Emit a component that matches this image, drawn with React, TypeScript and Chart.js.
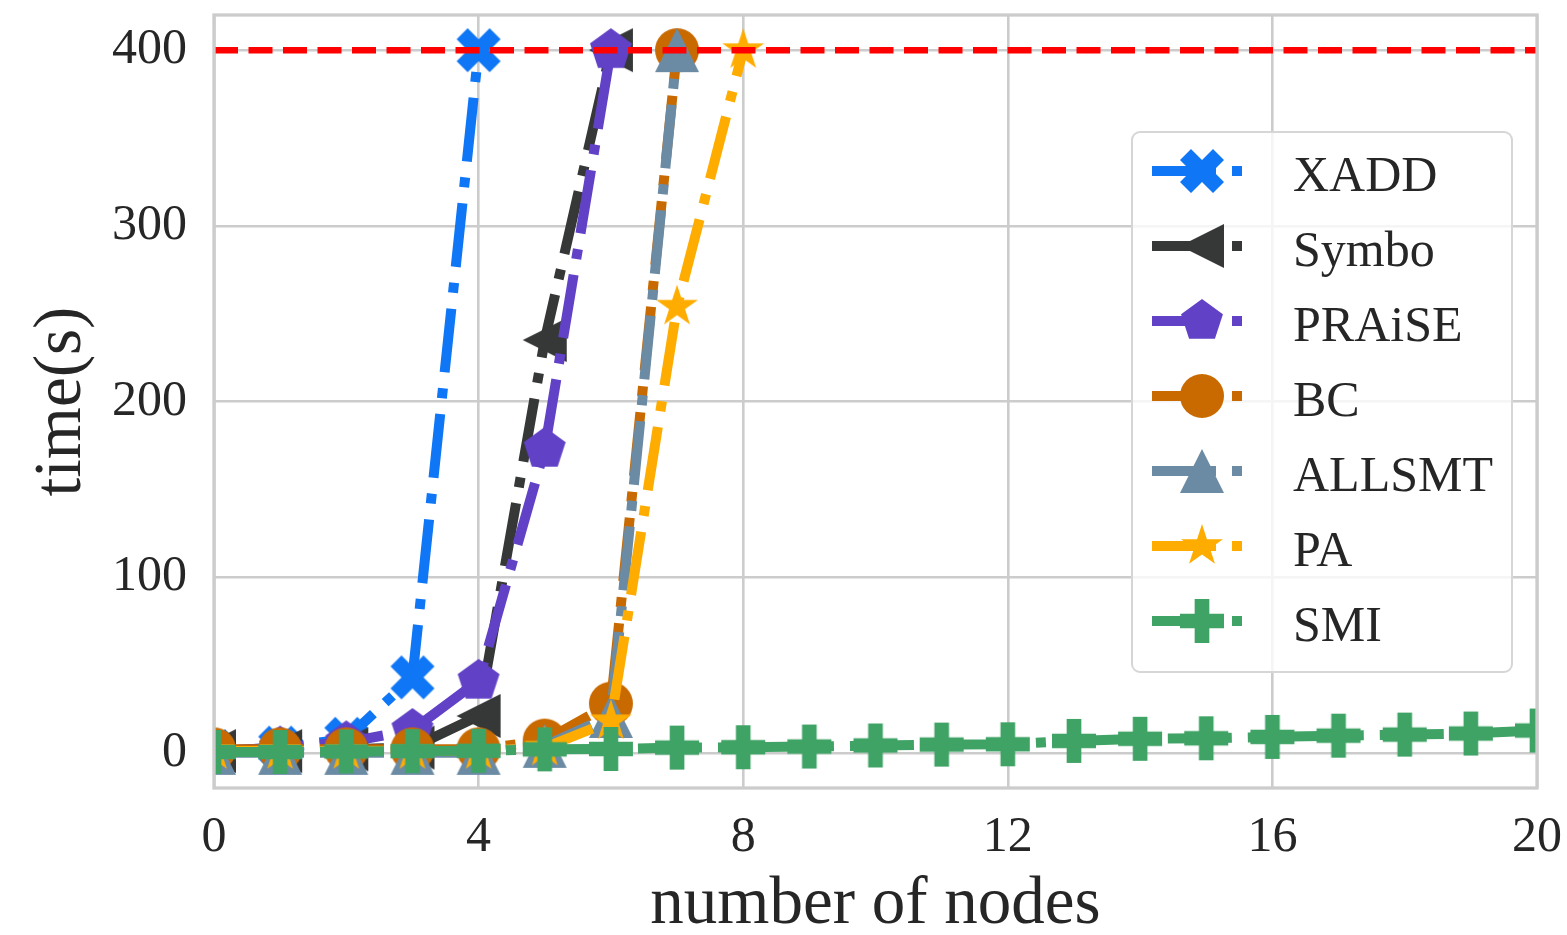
import React, { useEffect, useRef } from 'react';
import { Chart, registerables } from 'chart.js';

Chart.register(...registerables);

// ---------------- data ----------------
const NODES = [0, 1, 2, 3, 4, 5, 6, 7, 8, 9, 10, 11, 12, 13, 14, 15, 16, 17, 18, 19, 20];
const SERIES_NAMES = ['XADD', 'Symbo', 'PRAiSE', 'BC', 'ALLSMT', 'PA', 'SMI'];
const XADD = [1, 3, 8, 43, 400];
const SYMBO = [1, 1, 2, 3, 21, 235, 400];
const PRAISE = [1, 3, 6, 13, 41, 173, 400];
const BC = [2, 2, 2, 2, 2, 7, 28, 400];
const ALLSMT = [0, 0, 0, 0, 0, 4, 21, 400];
const PA = [1, 1, 1, 1, 1, 3, 18, 254, 400];
const SMI = [0.5, 0.5, 0.8, 1, 1.2, 2, 2.2, 3, 3.2, 3.6, 4.2, 4.7, 4.9, 6.8, 8, 8.3, 9.1, 9.8, 10.4, 11, 12.7];
const TIMEOUT = 400;
const X_TICKS = [0, 4, 8, 12, 16, 20];
const Y_TICKS = [0, 100, 200, 300, 400];
const X_LABEL = 'number of nodes';
const Y_LABEL = 'time(s)';

// ---------------- styles ----------------
const COLORS = ['#0F76F6', '#363737', '#6142C6', '#C96A00', '#6B8BA4', '#FFAC00', '#40A366'];
const SHAPES = ['x', 'tri_left', 'pentagon', 'circle', 'tri_up', 'star', 'plus'];
const VALUES = [XADD, SYMBO, PRAISE, BC, ALLSMT, PA, SMI];
const FONT = "'Liberation Serif', 'Times New Roman', serif";
const TEXT = '#262626';
const MS = 44;

function markerPath(ctx: CanvasRenderingContext2D, shape: string, cx: number, cy: number, S: number) {
  const h = S / 2;
  ctx.beginPath();
  const poly = (pts: number[][], div: number) => {
    pts.forEach(([a, b], i) => {
      const X = cx + (a * S) / div;
      const Y = cy + (b * S) / div;
      if (i === 0) ctx.moveTo(X, Y);
      else ctx.lineTo(X, Y);
    });
    ctx.closePath();
  };
  switch (shape) {
    case 'circle':
      ctx.arc(cx, cy, h, 0, Math.PI * 2);
      break;
    case 'x':
      poly([[-1, -2], [0, -1], [1, -2], [2, -1], [1, 0], [2, 1], [1, 2], [0, 1], [-1, 2], [-2, 1], [-1, 0], [-2, -1]], 4);
      break;
    case 'plus':
      poly([[-1, -3], [1, -3], [1, -1], [3, -1], [3, 1], [1, 1], [1, 3], [-1, 3], [-1, 1], [-3, 1], [-3, -1], [-1, -1]], 6);
      break;
    case 'pentagon':
      for (let k = 0; k < 5; k++) {
        const t = -Math.PI / 2 + (k * 2 * Math.PI) / 5;
        const X = cx + h * Math.cos(t);
        const Y = cy + h * Math.sin(t);
        if (k === 0) ctx.moveTo(X, Y);
        else ctx.lineTo(X, Y);
      }
      ctx.closePath();
      break;
    case 'star':
      for (let k = 0; k < 10; k++) {
        const r = k % 2 ? h * 0.381966 : h;
        const t = -Math.PI / 2 + (k * Math.PI) / 5;
        const X = cx + r * Math.cos(t);
        const Y = cy + r * Math.sin(t);
        if (k === 0) ctx.moveTo(X, Y);
        else ctx.lineTo(X, Y);
      }
      ctx.closePath();
      break;
    case 'tri_up':
      ctx.moveTo(cx, cy - h);
      ctx.lineTo(cx - h, cy + h);
      ctx.lineTo(cx + h, cy + h);
      ctx.closePath();
      break;
    case 'tri_left':
      ctx.moveTo(cx - h, cy);
      ctx.lineTo(cx + h, cy - h);
      ctx.lineTo(cx + h, cy + h);
      ctx.closePath();
      break;
  }
}

function makeMarker(shape: string, color: string, S: number): HTMLCanvasElement {
  const c = document.createElement('canvas');
  const n = S + 6;
  c.width = n;
  c.height = n;
  const ctx = c.getContext('2d')!;
  ctx.fillStyle = color;
  markerPath(ctx, shape, n / 2, n / 2, S);
  ctx.fill();
  return c;
}

export default function App() {
  const ref = useRef<HTMLCanvasElement>(null);

  useEffect(() => {
    if (!ref.current) return;
    const markers = SHAPES.map((s, i) => makeMarker(s, COLORS[i], MS));

    const seriesSets = SERIES_NAMES.map((name, i) => ({
      label: name,
      data: VALUES[i].map((v, j) => ({ x: NODES[j], y: v })),
      borderColor: COLORS[i],
      backgroundColor: COLORS[i],
      borderWidth: 10,
      borderDash: [64, 16, 10, 16],
      borderJoinStyle: 'round' as const,
      pointStyle: markers[i],
      pointRadius: 22,
      pointHoverRadius: 22,
      tension: 0,
      clip: 0,
      order: SERIES_NAMES.length - i,
    }));

    const timeoutSet = {
      label: 'timeout',
      data: [
        { x: X_TICKS[0], y: TIMEOUT },
        { x: X_TICKS[X_TICKS.length - 1], y: TIMEOUT },
      ],
      borderColor: '#ff0000',
      backgroundColor: '#ff0000',
      borderWidth: 6.5,
      borderDash: [24, 10.5],
      pointRadius: 0,
      tension: 0,
      clip: 0,
      order: 0,
    };

    const framePlugin = {
      id: 'frame',
      afterDatasetsDraw(chart: any) {
        const { ctx, chartArea } = chart;
        ctx.save();
        ctx.strokeStyle = '#cccccc';
        ctx.lineWidth = 3.3;
        ctx.setLineDash([]);
        ctx.strokeRect(chartArea.left, chartArea.top, chartArea.right - chartArea.left, chartArea.bottom - chartArea.top);
        ctx.restore();
      },
    };

    const legendPlugin = {
      id: 'mplLegend',
      afterDraw(chart: any) {
        const ctx: CanvasRenderingContext2D = chart.ctx;
        ctx.save();
        const bx = 1132, by = 132, bw = 380, bh = 540, r = 8;
        ctx.beginPath();
        ctx.moveTo(bx + r, by);
        ctx.lineTo(bx + bw - r, by);
        ctx.arcTo(bx + bw, by, bx + bw, by + r, r);
        ctx.lineTo(bx + bw, by + bh - r);
        ctx.arcTo(bx + bw, by + bh, bx + bw - r, by + bh, r);
        ctx.lineTo(bx + r, by + bh);
        ctx.arcTo(bx, by + bh, bx, by + bh - r, r);
        ctx.lineTo(bx, by + r);
        ctx.arcTo(bx, by, bx + r, by, r);
        ctx.closePath();
        ctx.fillStyle = 'rgba(255,255,255,0.8)';
        ctx.fill();
        ctx.strokeStyle = '#d6d6d6';
        ctx.lineWidth = 2;
        ctx.stroke();

        SERIES_NAMES.forEach((name, i) => {
          const y = 171 + i * 75;
          ctx.strokeStyle = COLORS[i];
          ctx.lineWidth = 10;
          ctx.lineCap = 'butt';
          ctx.setLineDash([]);
          ctx.beginPath();
          ctx.moveTo(1152, y);
          ctx.lineTo(1216, y);
          ctx.stroke();
          ctx.beginPath();
          ctx.moveTo(1232, y);
          ctx.lineTo(1242, y);
          ctx.stroke();
          const m = markers[i];
          ctx.drawImage(m, 1202 - m.width / 2, y - m.height / 2);
          ctx.fillStyle = TEXT;
          ctx.font = `50px ${FONT}`;
          ctx.textAlign = 'left';
          ctx.textBaseline = 'alphabetic';
          ctx.fillText(name, 1293, y + 20);
        });
        ctx.restore();
      },
    };

    const chart = new Chart(ref.current, {
      type: 'line',
      data: { datasets: [timeoutSet, ...seriesSets] as any },
      options: {
        animation: false,
        responsive: false,
        devicePixelRatio: 1,
        layout: { autoPadding: false, padding: { top: 15, right: 30, left: 0, bottom: 0 } },
        plugins: { legend: { display: false }, tooltip: { enabled: false } },
        scales: {
          x: {
            type: 'linear',
            min: 0,
            max: 20,
            afterBuildTicks: (s: any) => {
              s.ticks = X_TICKS.map((v) => ({ value: v }));
            },
            afterFit: (s: any) => {
              s.height = 147;
              s.paddingLeft = 0;
              s.paddingRight = 0;
            },
            grid: { color: '#cccccc', lineWidth: 2.6, drawTicks: false },
            border: { display: false },
            ticks: {
              font: { family: FONT, size: 50 },
              color: TEXT,
              padding: 20,
              maxRotation: 0,
              autoSkip: false,
            },
            title: {
              display: true,
              text: X_LABEL,
              font: { family: FONT, size: 67, lineHeight: 1 },
              color: TEXT,
              padding: { top: 0, bottom: -4 },
            },
          },
          y: {
            type: 'linear',
            min: -20,
            max: 420,
            afterBuildTicks: (s: any) => {
              s.ticks = Y_TICKS.map((v) => ({ value: v }));
            },
            afterFit: (s: any) => {
              s.width = 214;
              s.paddingTop = 0;
              s.paddingBottom = 0;
            },
            grid: { color: '#cccccc', lineWidth: 2.6, drawTicks: false },
            border: { display: false },
            ticks: {
              font: { family: FONT, size: 50 },
              color: TEXT,
              padding: 27,
              autoSkip: false,
            },
            title: {
              display: true,
              text: Y_LABEL,
              font: { family: FONT, size: 67, lineHeight: 1 },
              color: TEXT,
              padding: { top: 29, bottom: 0 },
            },
          },
        },
      } as any,
      plugins: [framePlugin, legendPlugin],
    });
    return () => chart.destroy();
  }, []);

  return (
    <div style={{ position: 'fixed', left: 0, top: 0, width: 1567, height: 935, background: '#fff' }}>
      <canvas ref={ref} width={1567} height={935} style={{ width: 1567, height: 935, display: 'block' }} />
    </div>
  );
}
